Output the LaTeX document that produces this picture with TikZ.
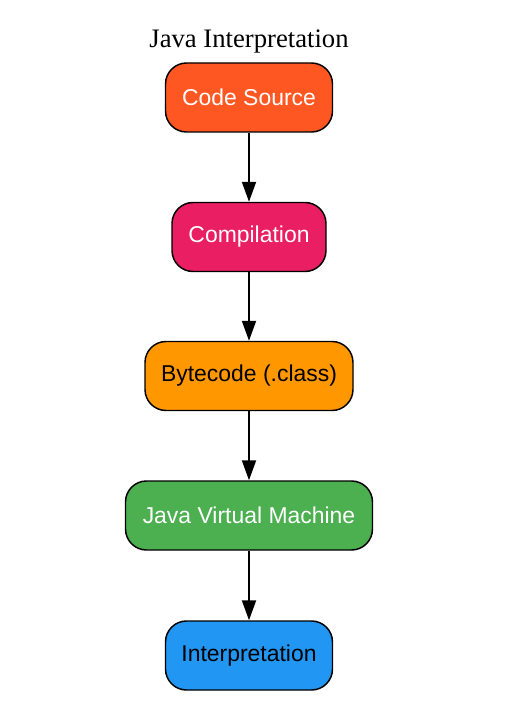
\documentclass[tikz,border=0pt]{standalone}
\usepackage{fontspec}
\setmainfont{Liberation Sans}
\newfontfamily\titlefont{Liberation Serif}
\usetikzlibrary{arrows.meta}
\definecolor{csrc}{HTML}{FF5722}
\definecolor{ccomp}{HTML}{E91E63}
\definecolor{cbyte}{HTML}{FF9800}
\definecolor{cjvm}{HTML}{4CAF50}
\definecolor{cinterp}{HTML}{2196F3}
\tikzset{
  stepbox/.style={draw=black, line width=1.1pt, rounded corners=15.75pt,
    minimum height=51.75pt, inner sep=0pt, font=\fontsize{17.2}{20}\selectfont},
  flow/.style={draw=black, line width=1.5pt, -{Triangle[length=15pt,width=10.5pt]}}
}
\begin{document}
\begin{tikzpicture}[x=0.75pt,y=-0.75pt]
\useasboundingbox (0,0) rectangle (511,713);
\node[anchor=base, font=\titlefont\fontsize{20}{24}\selectfont] (title) at (249,48) {Java Interpretation};
\node[stepbox, fill=csrc, text=white, minimum width=125.25pt] (cs) at (249,97.5) {Code Source};
\node[stepbox, fill=ccomp, text=white, minimum width=115.5pt] (comp) at (249,237) {Compilation};
\node[stepbox, fill=cbyte, text=black, minimum width=156pt] (byte) at (249,376) {Bytecode (.class)};
\node[stepbox, fill=cjvm, text=white, minimum width=185.25pt] (jvm) at (249,515.5) {Java Virtual Machine};
\node[stepbox, fill=cinterp, text=black, minimum width=125.25pt] (interp) at (249,655.5) {Interpretation};
\draw[flow] (cs) -- (comp);
\draw[flow] (comp) -- (byte);
\draw[flow] (byte) -- (jvm);
\draw[flow] (jvm) -- (interp);
\end{tikzpicture}
\end{document}
